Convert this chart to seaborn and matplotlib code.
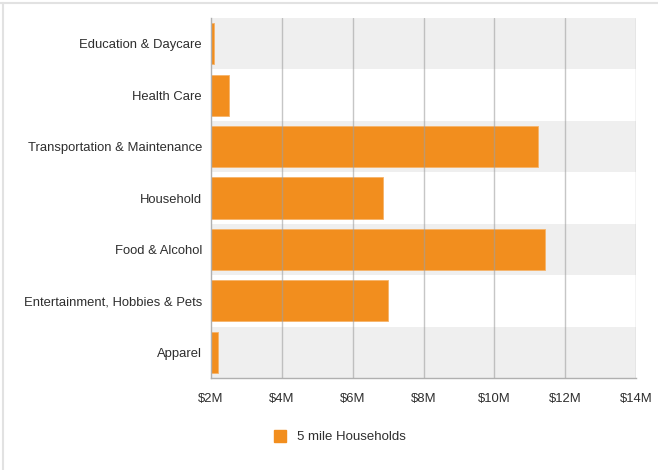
import matplotlib
matplotlib.use("Agg")
import matplotlib.pyplot as plt
from matplotlib.lines import Line2D
from matplotlib.ticker import FuncFormatter
import seaborn as sns
import pandas as pd

categories = [
    "Education & Daycare",
    "Health Care",
    "Transportation & Maintenance",
    "Household",
    "Food & Alcohol",
    "Entertainment, Hobbies & Pets",
    "Apparel",
]
spending = [2.08e6, 2.50e6, 11.22e6, 6.86e6, 11.43e6, 7.00e6, 2.21e6]
x_ticks = [2e6, 4e6, 6e6, 8e6, 10e6, 12e6, 14e6]
series_name = "5 mile Households"

BAR = "#F28E1E"
BAND = "#EFEFEF"
TEXT = "#2E2E2E"

sns.set_theme(style="white")
plt.rcParams["font.family"] = ["Liberation Sans", "DejaVu Sans"]

df = pd.DataFrame({"category": categories, "value": spending})

fig = plt.figure(figsize=(6.58, 4.70), dpi=100)
ax = fig.add_axes([211 / 658, 1 - 378 / 470, 425 / 658, 360 / 470])

# alternating row bands
for i in range(len(categories)):
    if i % 2 == 0:
        ax.axhspan(i - 0.5, i + 0.5, color=BAND, zorder=0, lw=0)

sns.barplot(data=df, x="value", y="category", orient="h", color=BAR,
            saturation=1, width=0.8, ax=ax, zorder=2,
            edgecolor="#F6B46A", linewidth=0.6)

ax.set_xlim(x_ticks[0], x_ticks[-1])
ax.set_ylim(len(categories) - 0.5, -0.5)
ax.set_xticks(x_ticks)
ax.xaxis.set_major_formatter(FuncFormatter(lambda v, p: f"${v/1e6:.0f}M"))

ax.grid(False)
for t in x_ticks[1:]:
    ax.axvline(t, color="#A0A0A0", lw=1.0, alpha=0.6, zorder=3)

for side in ["top", "right"]:
    ax.spines[side].set_visible(False)
for side in ["left", "bottom"]:
    ax.spines[side].set_color("#B0B0B0")
    ax.spines[side].set_linewidth(1.0)

ax.set_xlabel("")
ax.set_ylabel("")
ax.tick_params(axis="y", length=0, pad=6.5, labelsize=9.4, labelcolor=TEXT)
ax.tick_params(axis="x", length=0, pad=11, labelsize=9.4, labelcolor=TEXT)

handle = Line2D([], [], marker="s", linestyle="none", markersize=9,
                markerfacecolor=BAR, markeredgecolor=BAR)
fig.legend([handle], [series_name], loc="center", bbox_to_anchor=(336 / 658, 1 - 437 / 470),
           frameon=False, fontsize=9.5, handletextpad=0.3, labelcolor=TEXT)

# card border along the top and left edges
fig.add_artist(Line2D([0, 1], [1 - 2.5 / 470] * 2, transform=fig.transFigure,
                      color="#E2E2E2", lw=1.5))
fig.add_artist(Line2D([3 / 658] * 2, [0, 1 - 2.5 / 470], transform=fig.transFigure,
                      color="#E2E2E2", lw=1.5))

fig.savefig("out.png", dpi=100)
